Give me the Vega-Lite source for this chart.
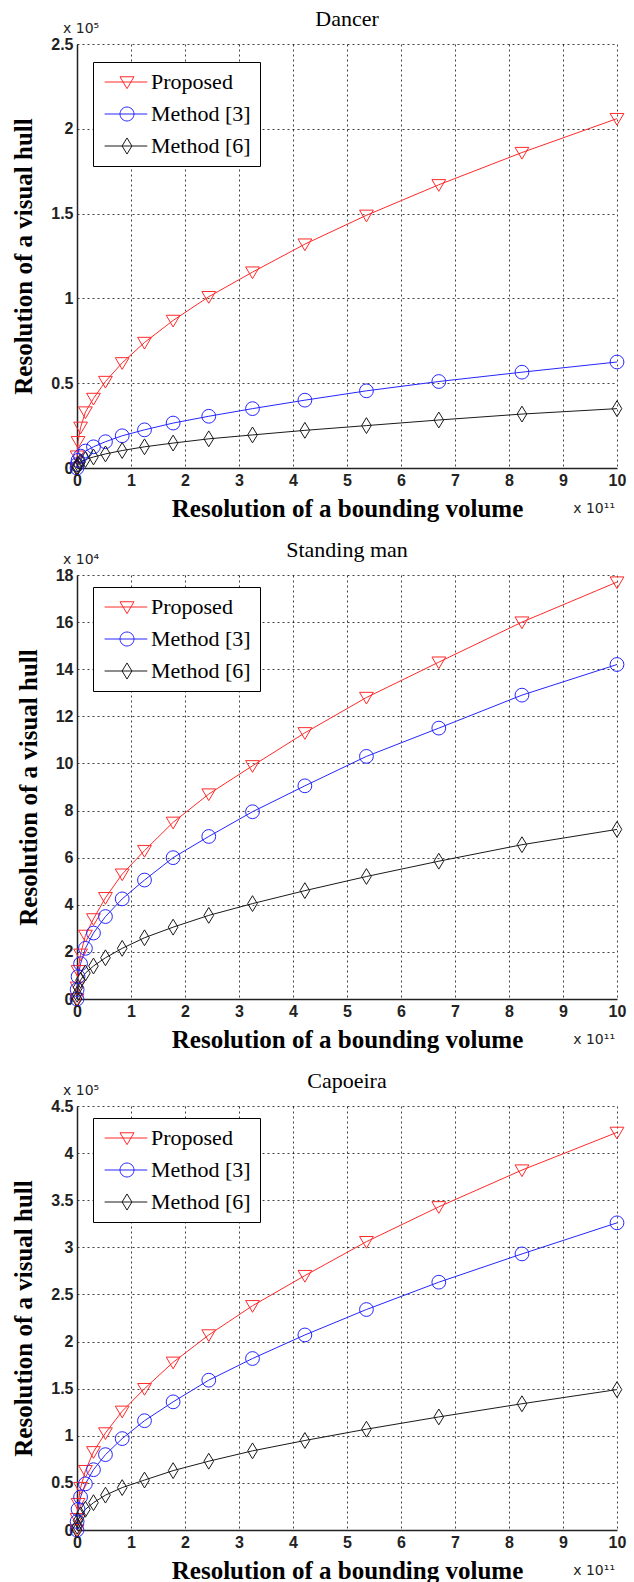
{
  "$schema": "https://vega.github.io/schema/vega-lite/v6.json",
  "background": "white",
  "padding": {"left": 11, "top": 8, "right": 5, "bottom": 5},
  "spacing": 107,
  "bounds": "flush",
  "config": {
    "view": {"stroke": null},
    "title": {"font": "Liberation Serif, Times New Roman, serif", "fontSize": 22, "fontWeight": "normal", "offset": -9, "color": "black"},
    "axis": {"labelFont": "Liberation Sans, Arial, sans-serif", "labelFontSize": 16, "labelFontWeight": "bold", "labelColor": "#222", "titleFont": "Liberation Serif, Times New Roman, serif", "titleFontSize": 25, "titleFontWeight": "bold", "titleColor": "black", "ticks": false, "domainColor": "#222", "domainWidth": 1.5, "grid": true, "gridColor": "#000", "gridDash": [2, 3], "gridOpacity": 0.75, "gridWidth": 1, "labelPadding": 4, "labelFlush": false},
    "axisX": {"titlePadding": 8},
    "axisY": {"titlePadding": 14, "titleFont": "Liberation Serif, Times New Roman, serif"},
    "legend": {"labelFont": "Liberation Serif, Times New Roman, serif"}
  },
  "datasets": {
    "dancer": [
      {"s": "Proposed", "x": 0, "y": 0}, {"s": "Proposed", "x": 0.0024, "y": 0.07}, {"s": "Proposed", "x": 0.0195, "y": 0.155}, {"s": "Proposed", "x": 0.066, "y": 0.24}, {"s": "Proposed", "x": 0.156, "y": 0.33}, {"s": "Proposed", "x": 0.305, "y": 0.41}, {"s": "Proposed", "x": 0.527, "y": 0.51}, {"s": "Proposed", "x": 0.837, "y": 0.62}, {"s": "Proposed", "x": 1.25, "y": 0.74}, {"s": "Proposed", "x": 1.78, "y": 0.87}, {"s": "Proposed", "x": 2.44, "y": 1.01}, {"s": "Proposed", "x": 3.25, "y": 1.155}, {"s": "Proposed", "x": 4.22, "y": 1.32}, {"s": "Proposed", "x": 5.36, "y": 1.49}, {"s": "Proposed", "x": 6.7, "y": 1.67}, {"s": "Proposed", "x": 8.24, "y": 1.86}, {"s": "Proposed", "x": 10, "y": 2.06},
      {"s": "Method [3]", "x": 0, "y": 0}, {"s": "Method [3]", "x": 0.0024, "y": 0.02}, {"s": "Method [3]", "x": 0.0195, "y": 0.045}, {"s": "Method [3]", "x": 0.066, "y": 0.07}, {"s": "Method [3]", "x": 0.156, "y": 0.1}, {"s": "Method [3]", "x": 0.305, "y": 0.125}, {"s": "Method [3]", "x": 0.527, "y": 0.155}, {"s": "Method [3]", "x": 0.837, "y": 0.19}, {"s": "Method [3]", "x": 1.25, "y": 0.225}, {"s": "Method [3]", "x": 1.78, "y": 0.265}, {"s": "Method [3]", "x": 2.44, "y": 0.305}, {"s": "Method [3]", "x": 3.25, "y": 0.35}, {"s": "Method [3]", "x": 4.22, "y": 0.4}, {"s": "Method [3]", "x": 5.36, "y": 0.455}, {"s": "Method [3]", "x": 6.7, "y": 0.51}, {"s": "Method [3]", "x": 8.24, "y": 0.565}, {"s": "Method [3]", "x": 10, "y": 0.625},
      {"s": "Method [6]", "x": 0, "y": 0}, {"s": "Method [6]", "x": 0.0024, "y": 0.01}, {"s": "Method [6]", "x": 0.0195, "y": 0.022}, {"s": "Method [6]", "x": 0.066, "y": 0.035}, {"s": "Method [6]", "x": 0.156, "y": 0.05}, {"s": "Method [6]", "x": 0.305, "y": 0.065}, {"s": "Method [6]", "x": 0.527, "y": 0.083}, {"s": "Method [6]", "x": 0.837, "y": 0.103}, {"s": "Method [6]", "x": 1.25, "y": 0.125}, {"s": "Method [6]", "x": 1.78, "y": 0.147}, {"s": "Method [6]", "x": 2.44, "y": 0.172}, {"s": "Method [6]", "x": 3.25, "y": 0.195}, {"s": "Method [6]", "x": 4.22, "y": 0.222}, {"s": "Method [6]", "x": 5.36, "y": 0.25}, {"s": "Method [6]", "x": 6.7, "y": 0.283}, {"s": "Method [6]", "x": 8.24, "y": 0.318}, {"s": "Method [6]", "x": 10, "y": 0.35}
    ],
    "standing": [
      {"s": "Proposed", "x": 0, "y": 0}, {"s": "Proposed", "x": 0.0024, "y": 0.5}, {"s": "Proposed", "x": 0.0195, "y": 1.2}, {"s": "Proposed", "x": 0.066, "y": 1.9}, {"s": "Proposed", "x": 0.156, "y": 2.7}, {"s": "Proposed", "x": 0.305, "y": 3.4}, {"s": "Proposed", "x": 0.527, "y": 4.3}, {"s": "Proposed", "x": 0.837, "y": 5.3}, {"s": "Proposed", "x": 1.25, "y": 6.3}, {"s": "Proposed", "x": 1.78, "y": 7.5}, {"s": "Proposed", "x": 2.44, "y": 8.7}, {"s": "Proposed", "x": 3.25, "y": 9.9}, {"s": "Proposed", "x": 4.22, "y": 11.3}, {"s": "Proposed", "x": 5.36, "y": 12.8}, {"s": "Proposed", "x": 6.7, "y": 14.3}, {"s": "Proposed", "x": 8.24, "y": 16.0}, {"s": "Proposed", "x": 10, "y": 17.7},
      {"s": "Method [3]", "x": 0, "y": 0}, {"s": "Method [3]", "x": 0.0024, "y": 0.4}, {"s": "Method [3]", "x": 0.0195, "y": 0.95}, {"s": "Method [3]", "x": 0.066, "y": 1.5}, {"s": "Method [3]", "x": 0.156, "y": 2.15}, {"s": "Method [3]", "x": 0.305, "y": 2.8}, {"s": "Method [3]", "x": 0.527, "y": 3.5}, {"s": "Method [3]", "x": 0.837, "y": 4.25}, {"s": "Method [3]", "x": 1.25, "y": 5.05}, {"s": "Method [3]", "x": 1.78, "y": 6.0}, {"s": "Method [3]", "x": 2.44, "y": 6.9}, {"s": "Method [3]", "x": 3.25, "y": 7.95}, {"s": "Method [3]", "x": 4.22, "y": 9.05}, {"s": "Method [3]", "x": 5.36, "y": 10.3}, {"s": "Method [3]", "x": 6.7, "y": 11.5}, {"s": "Method [3]", "x": 8.24, "y": 12.9}, {"s": "Method [3]", "x": 10, "y": 14.2},
      {"s": "Method [6]", "x": 0, "y": 0}, {"s": "Method [6]", "x": 0.0024, "y": 0.2}, {"s": "Method [6]", "x": 0.0195, "y": 0.5}, {"s": "Method [6]", "x": 0.066, "y": 0.8}, {"s": "Method [6]", "x": 0.156, "y": 1.1}, {"s": "Method [6]", "x": 0.305, "y": 1.4}, {"s": "Method [6]", "x": 0.527, "y": 1.75}, {"s": "Method [6]", "x": 0.837, "y": 2.15}, {"s": "Method [6]", "x": 1.25, "y": 2.6}, {"s": "Method [6]", "x": 1.78, "y": 3.05}, {"s": "Method [6]", "x": 2.44, "y": 3.55}, {"s": "Method [6]", "x": 3.25, "y": 4.05}, {"s": "Method [6]", "x": 4.22, "y": 4.6}, {"s": "Method [6]", "x": 5.36, "y": 5.2}, {"s": "Method [6]", "x": 6.7, "y": 5.85}, {"s": "Method [6]", "x": 8.24, "y": 6.55}, {"s": "Method [6]", "x": 10, "y": 7.2}
    ],
    "capoeira": [
      {"s": "Proposed", "x": 0, "y": 0}, {"s": "Proposed", "x": 0.0024, "y": 0.12}, {"s": "Proposed", "x": 0.0195, "y": 0.28}, {"s": "Proposed", "x": 0.066, "y": 0.45}, {"s": "Proposed", "x": 0.156, "y": 0.63}, {"s": "Proposed", "x": 0.305, "y": 0.83}, {"s": "Proposed", "x": 0.527, "y": 1.03}, {"s": "Proposed", "x": 0.837, "y": 1.26}, {"s": "Proposed", "x": 1.25, "y": 1.5}, {"s": "Proposed", "x": 1.78, "y": 1.78}, {"s": "Proposed", "x": 2.44, "y": 2.07}, {"s": "Proposed", "x": 3.25, "y": 2.38}, {"s": "Proposed", "x": 4.22, "y": 2.7}, {"s": "Proposed", "x": 5.36, "y": 3.06}, {"s": "Proposed", "x": 6.7, "y": 3.43}, {"s": "Proposed", "x": 8.24, "y": 3.82}, {"s": "Proposed", "x": 10, "y": 4.22},
      {"s": "Method [3]", "x": 0, "y": 0}, {"s": "Method [3]", "x": 0.0024, "y": 0.09}, {"s": "Method [3]", "x": 0.0195, "y": 0.22}, {"s": "Method [3]", "x": 0.066, "y": 0.35}, {"s": "Method [3]", "x": 0.156, "y": 0.49}, {"s": "Method [3]", "x": 0.305, "y": 0.64}, {"s": "Method [3]", "x": 0.527, "y": 0.8}, {"s": "Method [3]", "x": 0.837, "y": 0.97}, {"s": "Method [3]", "x": 1.25, "y": 1.16}, {"s": "Method [3]", "x": 1.78, "y": 1.36}, {"s": "Method [3]", "x": 2.44, "y": 1.59}, {"s": "Method [3]", "x": 3.25, "y": 1.82}, {"s": "Method [3]", "x": 4.22, "y": 2.07}, {"s": "Method [3]", "x": 5.36, "y": 2.34}, {"s": "Method [3]", "x": 6.7, "y": 2.63}, {"s": "Method [3]", "x": 8.24, "y": 2.93}, {"s": "Method [3]", "x": 10, "y": 3.26},
      {"s": "Method [6]", "x": 0, "y": 0}, {"s": "Method [6]", "x": 0.0024, "y": 0.04}, {"s": "Method [6]", "x": 0.0195, "y": 0.1}, {"s": "Method [6]", "x": 0.066, "y": 0.16}, {"s": "Method [6]", "x": 0.156, "y": 0.22}, {"s": "Method [6]", "x": 0.305, "y": 0.29}, {"s": "Method [6]", "x": 0.527, "y": 0.37}, {"s": "Method [6]", "x": 0.837, "y": 0.45}, {"s": "Method [6]", "x": 1.25, "y": 0.53}, {"s": "Method [6]", "x": 1.78, "y": 0.63}, {"s": "Method [6]", "x": 2.44, "y": 0.73}, {"s": "Method [6]", "x": 3.25, "y": 0.84}, {"s": "Method [6]", "x": 4.22, "y": 0.95}, {"s": "Method [6]", "x": 5.36, "y": 1.07}, {"s": "Method [6]", "x": 6.7, "y": 1.2}, {"s": "Method [6]", "x": 8.24, "y": 1.34}, {"s": "Method [6]", "x": 10, "y": 1.49}
    ]
  },
  "vconcat": [
    {
      "title": "Dancer",
      "width": 540, "height": 424,
      "data": {"name": "dancer"},
      "layer": [
        {"mark": {"type": "line", "strokeWidth": 1},
         "encoding": {
           "x": {"field": "x", "type": "quantitative", "scale": {"domain": [0, 10], "nice": false}, "axis": {"title": "Resolution of a bounding volume", "titleFont": "Liberation Serif, Times New Roman, serif", "values": [0, 1, 2, 3, 4, 5, 6, 7, 8, 9, 10]}},
           "y": {"field": "y", "type": "quantitative", "scale": {"domain": [0, 2.5], "nice": false}, "axis": {"title": "Resolution of a visual hull", "titleFont": "Liberation Serif, Times New Roman, serif", "values": [0, 0.5, 1, 1.5, 2, 2.5], "format": "~g"}},
           "color": {"field": "s", "type": "nominal", "scale": {"domain": ["Proposed", "Method [3]", "Method [6]"], "range": ["#ff2a2a", "#2626ff", "#1a1a1a"]}, "legend": null}
         }},
        {"mark": {"type": "point", "filled": false, "strokeWidth": 1, "size": 190, "opacity": 1},
         "encoding": {
           "x": {"field": "x", "type": "quantitative"},
           "y": {"field": "y", "type": "quantitative"},
           "color": {"field": "s", "type": "nominal", "legend": null},
           "shape": {"field": "s", "type": "nominal", "scale": {"domain": ["Proposed", "Method [3]", "Method [6]"], "range": ["M-1,-0.75L1,-0.75L0,0.95Z", "circle", "M0,-1.15L0.7,0L0,1.15L-0.7,0Z"]}, "legend": null}
         }},
        {"transform": [{"filter": "false"}],
         "mark": {"type": "point", "filled": false, "strokeWidth": 1, "opacity": 1},
         "encoding": {
           "x": {"field": "x", "type": "quantitative"},
           "y": {"field": "y", "type": "quantitative"},
           "stroke": {"field": "s", "type": "nominal", "scale": {"domain": ["Proposed", "Method [3]", "Method [6]"], "range": ["#ff2a2a", "#2626ff", "#1a1a1a"]}, "legend": {"title": null, "orient": "none", "legendX": 16, "legendY": 18, "symbolSize": 196, "symbolStrokeWidth": 1, "labelFont": "Liberation Serif, Times New Roman, serif", "labelFontSize": 22, "labelColor": "black", "labelOffset": 27, "padding": 9, "rowPadding": 10, "strokeColor": "black", "fillColor": "white", "labelLimit": 300}},
           "shape": {"field": "s", "type": "nominal", "scale": {"domain": ["Proposed", "Method [3]", "Method [6]"], "range": ["M-1.2,0L4.9,0M1,-0.75L3,-0.75L2,0.95Z", "M-1.2,0L4.9,0M1,0A1,1,0,1,0,3,0A1,1,0,1,0,1,0Z", "M-1.2,0L4.9,0M2,-1.15L2.7,0L2,1.15L1.3,0Z"]}, "legend": {"title": null, "orient": "none", "legendX": 16, "legendY": 18, "symbolSize": 196, "symbolStrokeWidth": 1, "labelFont": "Liberation Serif, Times New Roman, serif", "labelFontSize": 22, "labelColor": "black", "labelOffset": 27, "padding": 9, "rowPadding": 10, "strokeColor": "black", "fillColor": "white", "labelLimit": 300}}
         }},
        {"data": {"values": [{"t": "x 10⁵"}]},
         "mark": {"type": "text", "align": "left", "baseline": "middle", "dx": -14, "dy": -15, "fontSize": 14, "font": "DejaVu Sans", "color": "#222"},
         "encoding": {"x": {"datum": 0}, "y": {"datum": 2.5}, "text": {"field": "t"}}},
        {"data": {"values": [{"t": "x 10¹¹"}]},
         "mark": {"type": "text", "align": "right", "baseline": "middle", "dx": -2, "dy": 41, "fontSize": 14, "font": "DejaVu Sans", "color": "#222"},
         "encoding": {"x": {"datum": 10}, "y": {"datum": 0}, "text": {"field": "t"}}}
      ],
      "resolve": {"scale": {"shape": "independent", "stroke": "independent"}}
    },
    {
      "title": "Standing man",
      "width": 540, "height": 424,
      "data": {"name": "standing"},
      "layer": [
        {"mark": {"type": "line", "strokeWidth": 1},
         "encoding": {
           "x": {"field": "x", "type": "quantitative", "scale": {"domain": [0, 10], "nice": false}, "axis": {"title": "Resolution of a bounding volume", "titleFont": "Liberation Serif, Times New Roman, serif", "values": [0, 1, 2, 3, 4, 5, 6, 7, 8, 9, 10]}},
           "y": {"field": "y", "type": "quantitative", "scale": {"domain": [0, 18], "nice": false}, "axis": {"title": "Resolution of a visual hull", "titleFont": "Liberation Serif, Times New Roman, serif", "values": [0, 2, 4, 6, 8, 10, 12, 14, 16, 18], "format": "~g"}},
           "color": {"field": "s", "type": "nominal", "scale": {"domain": ["Proposed", "Method [3]", "Method [6]"], "range": ["#ff2a2a", "#2626ff", "#1a1a1a"]}, "legend": null}
         }},
        {"mark": {"type": "point", "filled": false, "strokeWidth": 1, "size": 190, "opacity": 1},
         "encoding": {
           "x": {"field": "x", "type": "quantitative"},
           "y": {"field": "y", "type": "quantitative"},
           "color": {"field": "s", "type": "nominal", "legend": null},
           "shape": {"field": "s", "type": "nominal", "scale": {"domain": ["Proposed", "Method [3]", "Method [6]"], "range": ["M-1,-0.75L1,-0.75L0,0.95Z", "circle", "M0,-1.15L0.7,0L0,1.15L-0.7,0Z"]}, "legend": null}
         }},
        {"transform": [{"filter": "false"}],
         "mark": {"type": "point", "filled": false, "strokeWidth": 1, "opacity": 1},
         "encoding": {
           "x": {"field": "x", "type": "quantitative"},
           "y": {"field": "y", "type": "quantitative"},
           "stroke": {"field": "s", "type": "nominal", "scale": {"domain": ["Proposed", "Method [3]", "Method [6]"], "range": ["#ff2a2a", "#2626ff", "#1a1a1a"]}, "legend": {"title": null, "orient": "none", "legendX": 16, "legendY": 12, "symbolSize": 196, "symbolStrokeWidth": 1, "labelFont": "Liberation Serif, Times New Roman, serif", "labelFontSize": 22, "labelColor": "black", "labelOffset": 27, "padding": 9, "rowPadding": 10, "strokeColor": "black", "fillColor": "white", "labelLimit": 300}},
           "shape": {"field": "s", "type": "nominal", "scale": {"domain": ["Proposed", "Method [3]", "Method [6]"], "range": ["M-1.2,0L4.9,0M1,-0.75L3,-0.75L2,0.95Z", "M-1.2,0L4.9,0M1,0A1,1,0,1,0,3,0A1,1,0,1,0,1,0Z", "M-1.2,0L4.9,0M2,-1.15L2.7,0L2,1.15L1.3,0Z"]}, "legend": {"title": null, "orient": "none", "legendX": 16, "legendY": 12, "symbolSize": 196, "symbolStrokeWidth": 1, "labelFont": "Liberation Serif, Times New Roman, serif", "labelFontSize": 22, "labelColor": "black", "labelOffset": 27, "padding": 9, "rowPadding": 10, "strokeColor": "black", "fillColor": "white", "labelLimit": 300}}
         }},
        {"data": {"values": [{"t": "x 10⁴"}]},
         "mark": {"type": "text", "align": "left", "baseline": "middle", "dx": -14, "dy": -15, "fontSize": 14, "font": "DejaVu Sans", "color": "#222"},
         "encoding": {"x": {"datum": 0}, "y": {"datum": 18}, "text": {"field": "t"}}},
        {"data": {"values": [{"t": "x 10¹¹"}]},
         "mark": {"type": "text", "align": "right", "baseline": "middle", "dx": -2, "dy": 41, "fontSize": 14, "font": "DejaVu Sans", "color": "#222"},
         "encoding": {"x": {"datum": 10}, "y": {"datum": 0}, "text": {"field": "t"}}}
      ],
      "resolve": {"scale": {"shape": "independent", "stroke": "independent"}}
    },
    {
      "title": "Capoeira",
      "width": 540, "height": 424,
      "data": {"name": "capoeira"},
      "layer": [
        {"mark": {"type": "line", "strokeWidth": 1},
         "encoding": {
           "x": {"field": "x", "type": "quantitative", "scale": {"domain": [0, 10], "nice": false}, "axis": {"title": "Resolution of a bounding volume", "titleFont": "Liberation Serif, Times New Roman, serif", "values": [0, 1, 2, 3, 4, 5, 6, 7, 8, 9, 10]}},
           "y": {"field": "y", "type": "quantitative", "scale": {"domain": [0, 4.5], "nice": false}, "axis": {"title": "Resolution of a visual hull", "titleFont": "Liberation Serif, Times New Roman, serif", "values": [0, 0.5, 1, 1.5, 2, 2.5, 3, 3.5, 4, 4.5], "format": "~g"}},
           "color": {"field": "s", "type": "nominal", "scale": {"domain": ["Proposed", "Method [3]", "Method [6]"], "range": ["#ff2a2a", "#2626ff", "#1a1a1a"]}, "legend": null}
         }},
        {"mark": {"type": "point", "filled": false, "strokeWidth": 1, "size": 190, "opacity": 1},
         "encoding": {
           "x": {"field": "x", "type": "quantitative"},
           "y": {"field": "y", "type": "quantitative"},
           "color": {"field": "s", "type": "nominal", "legend": null},
           "shape": {"field": "s", "type": "nominal", "scale": {"domain": ["Proposed", "Method [3]", "Method [6]"], "range": ["M-1,-0.75L1,-0.75L0,0.95Z", "circle", "M0,-1.15L0.7,0L0,1.15L-0.7,0Z"]}, "legend": null}
         }},
        {"transform": [{"filter": "false"}],
         "mark": {"type": "point", "filled": false, "strokeWidth": 1, "opacity": 1},
         "encoding": {
           "x": {"field": "x", "type": "quantitative"},
           "y": {"field": "y", "type": "quantitative"},
           "stroke": {"field": "s", "type": "nominal", "scale": {"domain": ["Proposed", "Method [3]", "Method [6]"], "range": ["#ff2a2a", "#2626ff", "#1a1a1a"]}, "legend": {"title": null, "orient": "none", "legendX": 16, "legendY": 12, "symbolSize": 196, "symbolStrokeWidth": 1, "labelFont": "Liberation Serif, Times New Roman, serif", "labelFontSize": 22, "labelColor": "black", "labelOffset": 27, "padding": 9, "rowPadding": 10, "strokeColor": "black", "fillColor": "white", "labelLimit": 300}},
           "shape": {"field": "s", "type": "nominal", "scale": {"domain": ["Proposed", "Method [3]", "Method [6]"], "range": ["M-1.2,0L4.9,0M1,-0.75L3,-0.75L2,0.95Z", "M-1.2,0L4.9,0M1,0A1,1,0,1,0,3,0A1,1,0,1,0,1,0Z", "M-1.2,0L4.9,0M2,-1.15L2.7,0L2,1.15L1.3,0Z"]}, "legend": {"title": null, "orient": "none", "legendX": 16, "legendY": 12, "symbolSize": 196, "symbolStrokeWidth": 1, "labelFont": "Liberation Serif, Times New Roman, serif", "labelFontSize": 22, "labelColor": "black", "labelOffset": 27, "padding": 9, "rowPadding": 10, "strokeColor": "black", "fillColor": "white", "labelLimit": 300}}
         }},
        {"data": {"values": [{"t": "x 10⁵"}]},
         "mark": {"type": "text", "align": "left", "baseline": "middle", "dx": -14, "dy": -15, "fontSize": 14, "font": "DejaVu Sans", "color": "#222"},
         "encoding": {"x": {"datum": 0}, "y": {"datum": 4.5}, "text": {"field": "t"}}},
        {"data": {"values": [{"t": "x 10¹¹"}]},
         "mark": {"type": "text", "align": "right", "baseline": "middle", "dx": -2, "dy": 41, "fontSize": 14, "font": "DejaVu Sans", "color": "#222"},
         "encoding": {"x": {"datum": 10}, "y": {"datum": 0}, "text": {"field": "t"}}}
      ],
      "resolve": {"scale": {"shape": "independent", "stroke": "independent"}}
    }
  ]
}
